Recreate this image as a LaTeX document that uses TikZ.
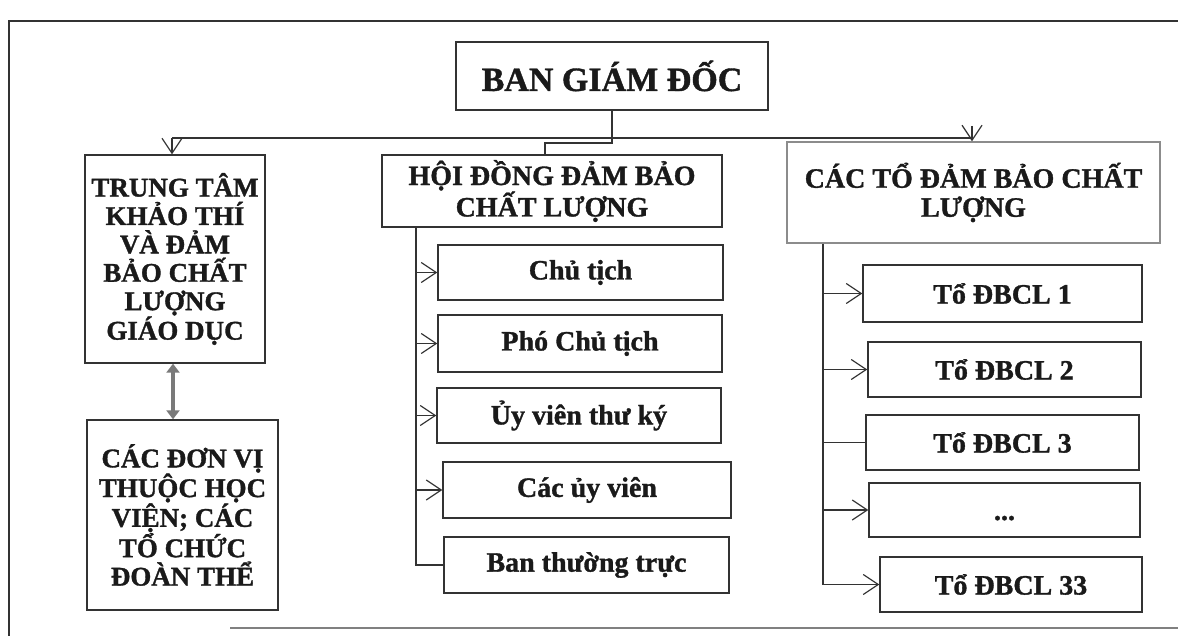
\documentclass[tikz,border=0pt]{standalone}
\usepackage{fontspec}
\setmainfont{Liberation Serif}[BoldFeatures={FakeBold=1.2}]
\usetikzlibrary{arrows.meta,calc}
\definecolor{ink}{HTML}{1A1A1A}
\definecolor{linec}{HTML}{333333}
\definecolor{lightb}{HTML}{8C8C8C}
\definecolor{dblc}{HTML}{7A7A7A}
\begin{document}
\begin{tikzpicture}[x=1pt,y=-1pt,
  box/.style={draw=linec, line width=1.4pt, inner sep=0pt, align=center, text=ink,
    font=\bfseries\fontsize{28}{29}\selectfont},
  capbox/.style={box, font=\bfseries\fontsize{27}{28.4}\selectfont},
  conn/.style={draw=linec, line width=1.4pt},
  arr/.style={conn, -{Straight Barb[length=15pt,width=20pt,line width=1.2pt]}},
  dbl/.style={draw=dblc, line width=3.6pt, {Triangle[length=9pt,width=13pt]}-{Triangle[length=9pt,width=13pt]}},
  frame/.style={draw=linec, line width=1.4pt}]
\useasboundingbox (0,0) rectangle (1178,636);
% outer frame
\draw[frame] (1178,21) -- (9,21) -- (9,636);
\draw[frame, draw=gray] (230,628) -- (1178,628);
% top
\node[box, minimum width=312pt, minimum height=68pt, font=\bfseries\fontsize{34}{36}\selectfont] (bgd) at (612,76) {BAN GIÁM ĐỐC};
% left column
\node[capbox, minimum width=180pt, minimum height=208pt] (ttk) at (175,259)
  {TRUNG TÂM\\KHẢO THÍ\\VÀ ĐẢM\\BẢO CHẤT\\LƯỢNG\\GIÁO DỤC};
\node[capbox, minimum width=191pt, minimum height=190pt] (dv) at (182.5,515)
  {CÁC ĐƠN VỊ\\THUỘC HỌC\\VIỆN; CÁC\\TỔ CHỨC\\ĐOÀN THỂ};
% middle column
\node[box, minimum width=340pt, minimum height=72pt] (hd) at (552,191)
  {HỘI ĐỒNG ĐẢM BẢO\\CHẤT LƯỢNG};
\node[box, minimum width=285pt, minimum height=55pt] (ct) at (580.5,272.5) {Chủ tịch};
\node[box, minimum width=284pt, minimum height=57pt] (pct) at (580,343.5) {Phó Chủ tịch};
\node[box, minimum width=284pt, minimum height=55pt] (uvtk) at (579,415.5) {Ủy viên thư ký};
\node[box, minimum width=288pt, minimum height=56pt] (cuv) at (587,490) {Các ủy viên};
\node[box, minimum width=285pt, minimum height=56pt] (btt) at (586.5,565) {Ban thường trực};
% right column
\node[box, draw=lightb, minimum width=373pt, minimum height=101pt] (to) at (973.5,192.5)
  {CÁC TỔ ĐẢM BẢO CHẤT\\LƯỢNG};
\node[box, minimum width=279pt, minimum height=57pt] (t1) at (1002.5,293.5) {Tổ ĐBCL 1};
\node[box, minimum width=273pt, minimum height=55pt] (t2) at (1004.5,369.5) {Tổ ĐBCL 2};
\node[box, minimum width=273pt, minimum height=55pt] (t3) at (1002.5,442.5) {Tổ ĐBCL 3};
\node[box, minimum width=271pt, minimum height=54pt] (tdots) at (1004.5,510) {\vphantom{Tổ ĐBCL}...};
\node[box, minimum width=262pt, minimum height=55pt] (t33) at (1011,584.5) {Tổ ĐBCL 33};
% connectors from the top
\coordinate (j1) at (612,143);
\coordinate (j2) at (545,143);
\coordinate (hl) at (172,138);
\coordinate (hr) at (972,138);
\draw[conn] (bgd.south) -- (j1) -- (j2) -- (j2 |- hd.north);
\draw[conn] (hl) -- (hr);
\draw[arr] (hl) -- (hl |- ttk.north);
\draw[arr] ($(hr)+(0,-12)$) -- (hr |- to.north);
% left double arrow
\draw[dbl] ([xshift=-2pt]ttk.south) -- ([xshift=-2pt]ttk.south |- dv.north);
% middle bus
\coordinate (mv) at (416,0);
\draw[conn] (mv |- hd.south) -- (mv |- btt.west) -- (btt.west);
\foreach \n in {ct,pct,uvtk,cuv} \draw[arr] (mv |- \n.west) -- (\n.west);
% right bus
\coordinate (rv) at (823,0);
\draw[conn] (rv |- to.south) -- (rv |- t33.west);
\foreach \n in {t1,t2,tdots,t33} \draw[arr] (rv |- \n.west) -- (\n.west);
\draw[conn] (rv |- t3.west) -- (t3.west);
\end{tikzpicture}
\end{document}
